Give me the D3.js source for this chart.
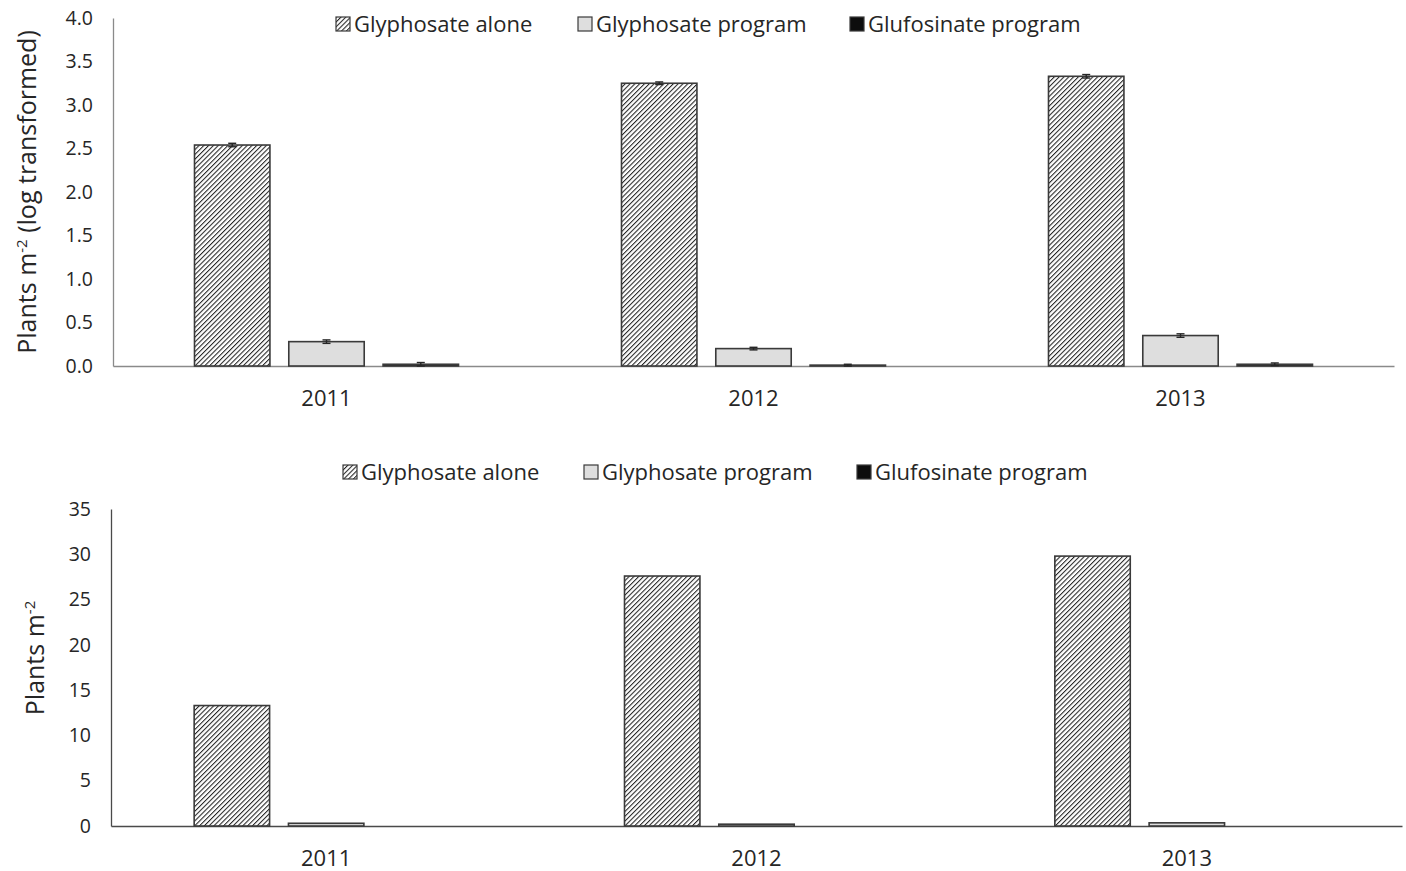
<!DOCTYPE html>
<meta charset="utf-8">
<script src="https://cdn.jsdelivr.net/npm/d3@7"></script>
<style>
  body { margin: 0; background: #fff; }
  text { font-family: "Open Sans", "Liberation Sans", sans-serif; fill: #262626; }
</style>
<div id="chart"></div>
<script>

// data
var years = ["2011", "2012", "2013"];
var series = ["Glyphosate alone", "Glyphosate program", "Glufosinate program"];

// top panel: log transformed densities (+ standard errors)
var logGlyAlone   = [2.54, 3.25, 3.33];
var logGlyProgram = [0.28, 0.20, 0.35];
var logGlufProgram = [0.02, 0.01, 0.02];
var logGlyAloneErr   = [0.02, 0.015, 0.02];
var logGlyProgramErr = [0.02, 0.015, 0.02];
var logGlufProgramErr = [0.02, 0.01, 0.015];
var logTicks = [0, 0.5, 1, 1.5, 2, 2.5, 3, 3.5, 4];

// bottom panel: plants per m2
var glyAlone   = [13.3, 27.6, 29.8];
var glyProgram = [0.3, 0.2, 0.35];
var glufProgram = [0, 0, 0];
var rawTicks = [0, 5, 10, 15, 20, 25, 30, 35];

var W = 1406, H = 871;
var svg = d3.select("#chart").append("svg")
    .attr("width", W).attr("height", H);

// hatch pattern for glyphosate alone
var defs = svg.append("defs");
defs.append("pattern")
    .attr("id", "hatch")
    .attr("patternUnits", "userSpaceOnUse")
    .attr("width", 3.4).attr("height", 3.4)
    .attr("patternTransform", "rotate(45)")
  .call(function(p) {
    p.append("rect").attr("width", 3.4).attr("height", 3.4).attr("fill", "#fff");
    p.append("line").attr("x1", 0).attr("y1", 0).attr("x2", 0).attr("y2", 3.4)
      .attr("stroke", "#222").attr("stroke-width", 2.1);
  });

var fills = ["url(#hatch)", "#dedede", "#0d0d0d"];

function panel(opt) {
  var g = svg.append("g");

  var y = d3.scaleLinear().domain(opt.domain).range([opt.bottom, opt.top]);
  var x0 = d3.scaleBand().domain(years).range([opt.left, opt.right]);
  var gw = 264;
  var x1 = d3.scaleBand().domain(series)
      .range([(x0.bandwidth() - gw) / 2, (x0.bandwidth() + gw) / 2])
      .paddingInner(0.2);

  // y axis
  var ya = g.append("g")
      .attr("transform", "translate(" + opt.left + ",0)")
      .call(d3.axisLeft(y).tickValues(opt.ticks).tickSize(0).tickPadding(20)
        .tickFormat(opt.fmt));
  ya.select(".domain").attr("stroke", opt.axisColor).attr("stroke-width", 1.3);
  ya.selectAll("text").style("font-size", "19.5px").attr("fill", "#262626");

  // x axis
  var xa = g.append("g")
      .attr("transform", "translate(0," + opt.bottom + ")")
      .call(d3.axisBottom(x0).tickSize(0).tickPadding(24));
  xa.select(".domain").attr("stroke", opt.axisColor).attr("stroke-width", 1.5);
  xa.selectAll("text").style("font-size", "22px").attr("fill", "#262626");

  // bars
  var rows = years.map(function(yr, i) {
    return series.map(function(s, j) {
      return {year: yr, s: s, j: j, v: opt.values[j][i], e: opt.errs ? opt.errs[j][i] : 0};
    });
  });
  var grp = g.selectAll(".grp").data(rows).enter().append("g")
      .attr("transform", function(d, i) { return "translate(" + x0(years[i]) + ",0)"; });

  grp.selectAll("rect").data(function(d) { return d.filter(function(r) { return r.v > 0; }); })
    .enter().append("rect")
      .attr("x", function(d) { return x1(d.s); })
      .attr("y", function(d) { return y(d.v); })
      .attr("width", x1.bandwidth())
      .attr("height", function(d) { return y(0) - y(d.v); })
      .attr("fill", function(d) { return fills[d.j]; })
      .attr("stroke", "#3a3a3a")
      .attr("stroke-width", 1.6);

  if (opt.errs) {
    var eb = grp.selectAll(".err").data(function(d) { return d; })
      .enter().append("g").attr("class", "err")
        .attr("stroke", "#262626").attr("stroke-width", 1.4);
    eb.append("line")
        .attr("x1", function(d) { return x1(d.s) + x1.bandwidth() / 2; })
        .attr("x2", function(d) { return x1(d.s) + x1.bandwidth() / 2; })
        .attr("y1", function(d) { return y(d.v + d.e); })
        .attr("y2", function(d) { return y(d.v - d.e); });
    [1, -1].forEach(function(sgn) {
      eb.append("line")
        .attr("x1", function(d) { return x1(d.s) + x1.bandwidth() / 2 - 4; })
        .attr("x2", function(d) { return x1(d.s) + x1.bandwidth() / 2 + 4; })
        .attr("y1", function(d) { return y(d.v + sgn * d.e); })
        .attr("y2", function(d) { return y(d.v + sgn * d.e); });
    });
  }

  // y title
  var t = g.append("text")
      .attr("transform", "translate(" + opt.titleX + "," + opt.titleY + ") rotate(-90)")
      .attr("text-anchor", "middle")
      .style("font-size", "25px");
  t.append("tspan").text("Plants m");
  t.append("tspan").text("-2").attr("dy", -9).style("font-size", "15px");
  if (opt.titleTail) t.append("tspan").text(opt.titleTail).attr("dy", 9);

  // legend
  var lg = g.selectAll(".leg").data(series).enter().append("g")
      .attr("transform", function(d, i) { return "translate(" + opt.legX[i] + "," + opt.legY + ")"; });
  lg.append("rect")
      .attr("x", 0).attr("y", -14).attr("width", 14).attr("height", 14)
      .attr("fill", function(d, i) { return fills[i]; })
      .attr("stroke", "#3a3a3a").attr("stroke-width", 1.2);
  lg.append("text")
      .attr("x", 18).attr("y", 1)
      .style("font-size", "22px")
      .text(function(d) { return d; });
}

panel({
  top: 18, bottom: 366, left: 113, right: 1394,
  domain: [0, 4], ticks: logTicks, fmt: d3.format(".1f"),
  values: [logGlyAlone, logGlyProgram, logGlufProgram],
  errs: [logGlyAloneErr, logGlyProgramErr, logGlufProgramErr],
  titleX: 36, titleY: 192, titleTail: " (log transformed)",
  axisColor: "#8a8a8a",
  legX: [336, 578, 850], legY: 31
});

panel({
  top: 509, bottom: 826, left: 111, right: 1402,
  domain: [0, 35], ticks: rawTicks, fmt: d3.format("d"),
  values: [glyAlone, glyProgram, glufProgram],
  errs: null,
  titleX: 44, titleY: 658, titleTail: null,
  axisColor: "#4a4a4a",
  legX: [343, 584, 857], legY: 479
});

</script>
